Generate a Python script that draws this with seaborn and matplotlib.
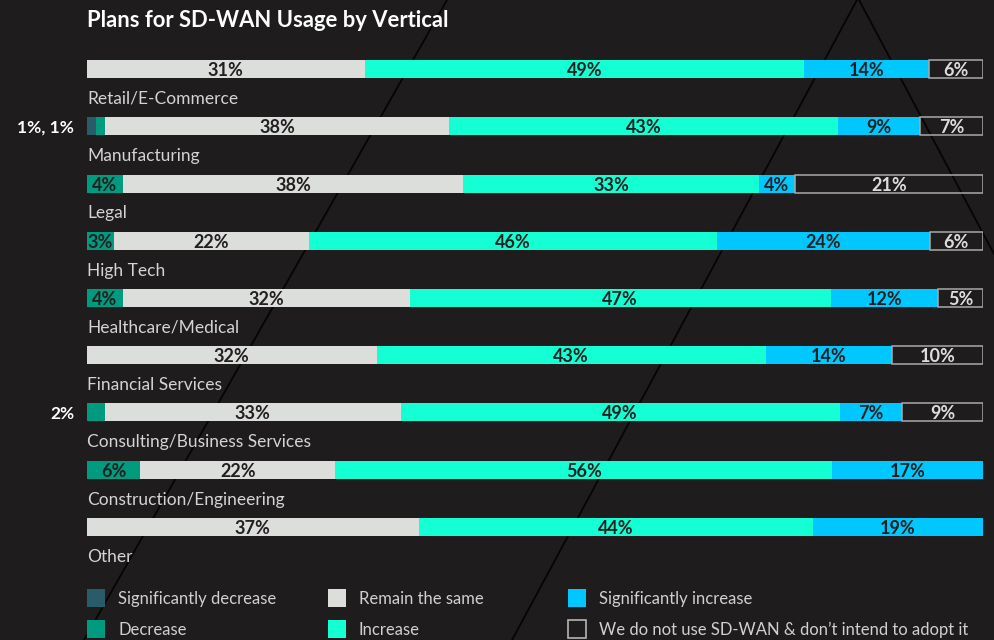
import numpy as np
import pandas as pd
import matplotlib.pyplot as plt
import seaborn as sns
from matplotlib.lines import Line2D
from matplotlib.patches import Rectangle

# values (percent of respondents per vertical)
verticals = ['Retail/E-Commerce', 'Manufacturing', 'Legal', 'High Tech', 'Healthcare/Medical',
             'Financial Services', 'Consulting/Business Services', 'Construction/Engineering', 'Other']
sig_decrease = [0, 1, 0, 0, 0, 0, 0, 0, 0]
decrease = [0, 1, 4, 3, 4, 0, 2, 6, 0]
remain_same = [31, 38, 38, 22, 32, 32, 33, 22, 37]
increase = [49, 43, 33, 46, 47, 43, 49, 56, 44]
sig_increase = [14, 9, 4, 24, 12, 14, 7, 17, 19]
no_sdwan = [6, 7, 21, 6, 5, 10, 9, 0, 0]

series_names = ['Significantly decrease', 'Decrease', 'Remain the same', 'Increase',
                'Significantly increase', 'We do not use SD-WAN & don\u2019t intend to adopt it']
colors = ['#2a5b69', '#009b7e', '#dcdedb', '#14ffd4', '#00c8ff', 'none']

bg = '#1e1c1d'
sns.set_style('dark', rc={'axes.facecolor': 'none', 'figure.facecolor': bg})
plt.rcParams['font.family'] = ['Lato', 'DejaVu Sans']

df = pd.DataFrame(dict(zip(series_names, [sig_decrease, decrease, remain_same, increase,
                                          sig_increase, no_sdwan])), index=verticals)
shares = df.div(df.sum(axis=1), axis=0) * 100
cum = shares.cumsum(axis=1)


def fx(x):
    return x / 994


def fy(y):
    return 1 - y / 640


fig = plt.figure(figsize=(9.94, 6.4), dpi=100)
fig.patch.set_facecolor(bg)

# decorative lines behind the bars
for (x0, y0), (x1, y1) in [((858, -2), (512, 640)), ((858, -2), (994, 254)), ((447, 0), (84, 640))]:
    fig.add_artist(Line2D([fx(x0), fx(x1)], [fy(y0), fy(y1)], color='#050505', lw=1.3, zorder=-1))

ax = fig.add_axes([fx(87), fy(555.6), 896 / 994, 515.2 / 640])
ax.set_facecolor('none')
bar_h = 18 / 57.25

# stacked bars: draw cumulative ends from last filled series to first so each covers the next
for k in reversed(range(5)):
    sns.barplot(x=cum.iloc[:, k].values, y=verticals, order=verticals, orient='h',
                color=colors[k], saturation=1, width=bar_h, linewidth=0, ax=ax)

# outlined "not using" segment
pos = np.arange(len(verticals))
has_none = shares.iloc[:, 5].values > 0
ax.barh(pos[has_none], shares.iloc[:, 5].values[has_none], left=cum.iloc[:, 4].values[has_none],
        height=bar_h, facecolor='none', edgecolor='#a9a9a9', linewidth=1.1)

ax.set_xlim(0, 100)
ax.set_ylim(len(verticals) - 0.5, -0.5)
ax.axis('off')

for i, name in enumerate(verticals):
    ax.text(0, i + 0.61, name, ha='left', va='baseline', fontsize=12.5, fontweight='normal',
            color='#d4d4d4')
    small = []
    for k in range(6):
        v = df.iloc[i, k]
        if v == 0:
            continue
        if v < 3:
            small.append(f'{v}%')
            continue
        centre = cum.iloc[i, k] - shares.iloc[i, k] / 2
        ax.text(centre, i, f'{v}%', ha='center', va='center_baseline', fontsize=13,
                fontweight='bold', color='#231f20' if k < 5 else '#dcdcdc')
    if small:
        ax.text(-1.45, i, ', '.join(small), ha='right', va='center_baseline', fontsize=12.5,
                fontweight='bold', color='white')

fig.text(fx(87), fy(27), 'Plans for SD-WAN Usage by Vertical', ha='left', va='baseline',
         fontsize=15.8, fontweight='bold', color='white')

# legend, three columns of two
col_x = [87, 328, 568]
row_y = [589, 620]
for k, name in enumerate(series_names):
    x = col_x[k // 2]
    y = row_y[k % 2]
    if colors[k] == 'none':
        rect = Rectangle((fx(x), fy(y + 18)), 18 / 994, 18 / 640, transform=fig.transFigure,
                         facecolor='none', edgecolor='#b5b5b5', lw=1.2)
    else:
        rect = Rectangle((fx(x), fy(y + 18)), 18 / 994, 18 / 640, transform=fig.transFigure,
                         facecolor=colors[k], edgecolor='none')
    fig.add_artist(rect)
    fig.text(fx(x + 31), fy(y + 15), name, ha='left', va='baseline', fontsize=12,
             fontweight='normal', color='#d0d0d0')

fig.savefig('out.png', dpi=100, facecolor=bg)
